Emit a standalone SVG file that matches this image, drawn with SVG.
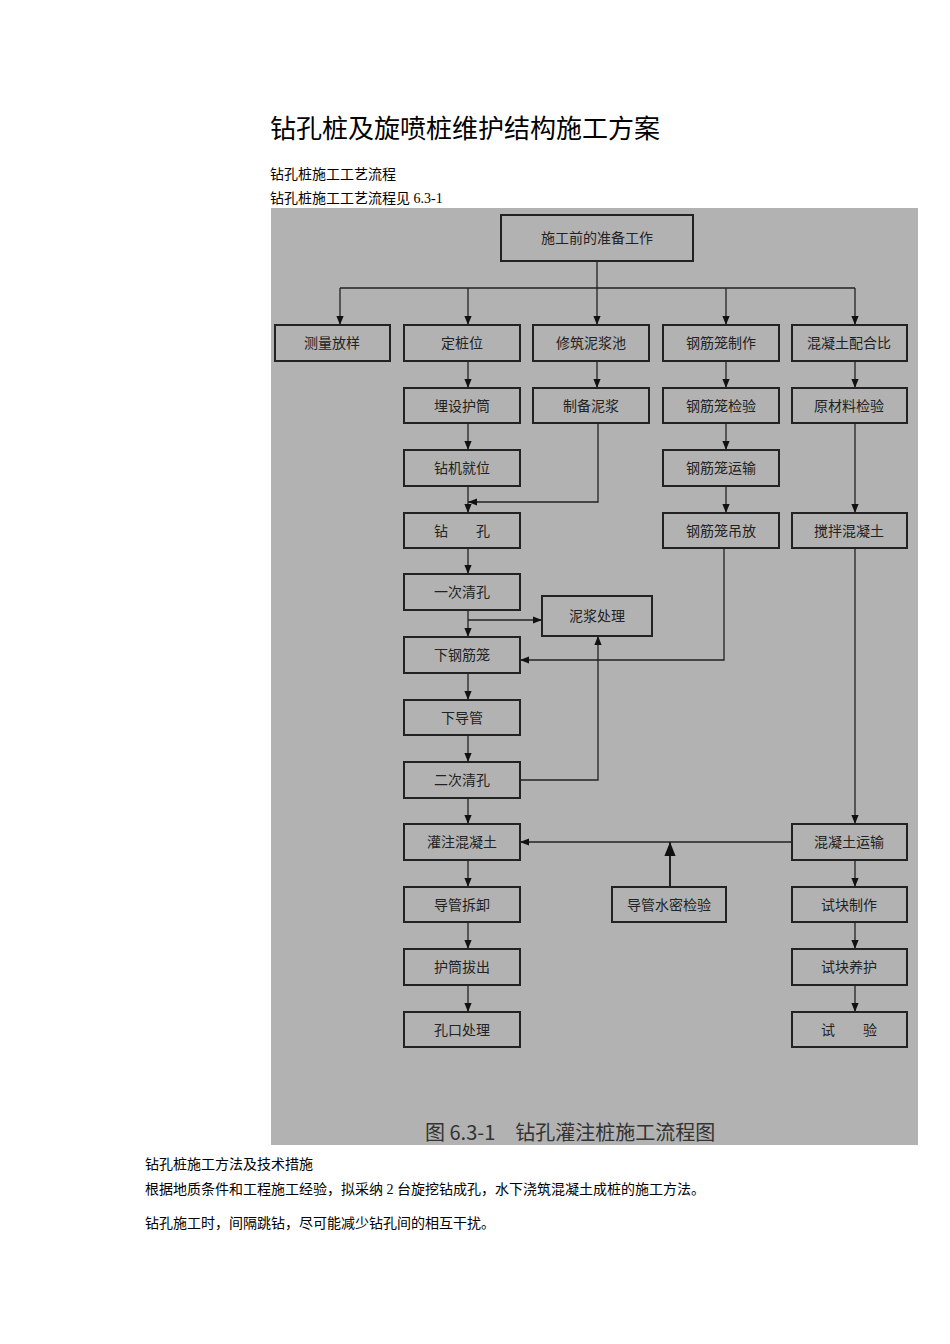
<svg xmlns="http://www.w3.org/2000/svg" width="950" height="1344" viewBox="0 0 950 1344">
<defs>
<marker id="a" viewBox="0 0 10 10" refX="10" refY="5" markerWidth="7" markerHeight="7" orient="auto"><path d="M0,1 L10,5 L0,9 z" fill="#111"/></marker>
</defs>
<style>
.t{font-family:"Liberation Serif","Noto Sans CJK SC",serif;fill:#000}
.b rect{fill:#b2b2b2;stroke:#222;stroke-width:2}
.b text{font-family:"Noto Sans CJK SC",sans-serif;font-size:14px;fill:#222;text-anchor:middle}
.c path{fill:none;stroke:#222;stroke-width:1.3}
</style>
<rect width="950" height="1344" fill="#fff"/>
<text class="t" x="270" y="138" font-size="26">钻孔桩及旋喷桩维护结构施工方案</text>
<text class="t" x="270" y="179" font-size="14">钻孔桩施工工艺流程</text>
<text class="t" x="270" y="203" font-size="14">钻孔桩施工工艺流程见 6.3-1</text>
<rect x="271" y="208" width="647" height="937" fill="#b2b2b2"/>
<g class="c">
<path d="M597,261 V288 M340,288 H855"/>
<path d="M340,288 V325" marker-end="url(#a)"/><path d="M468,288 V325" marker-end="url(#a)"/><path d="M597,288 V325" marker-end="url(#a)"/><path d="M726,288 V325" marker-end="url(#a)"/><path d="M855,288 V325" marker-end="url(#a)"/>
<path d="M468,361 V388" marker-end="url(#a)"/><path d="M468,423 V450" marker-end="url(#a)"/><path d="M468,486 V513" marker-end="url(#a)"/><path d="M468,548 V574" marker-end="url(#a)"/><path d="M468,610 V637" marker-end="url(#a)"/><path d="M468,673 V700" marker-end="url(#a)"/><path d="M468,735 V762" marker-end="url(#a)"/><path d="M468,798 V824" marker-end="url(#a)"/><path d="M468,860 V887" marker-end="url(#a)"/><path d="M468,922 V949" marker-end="url(#a)"/><path d="M468,985 V1012" marker-end="url(#a)"/>
<path d="M597,361 V388" marker-end="url(#a)"/>
<path d="M598,423 V502 H468" marker-end="url(#a)"/>
<path d="M726,361 V388" marker-end="url(#a)"/><path d="M726,423 V450" marker-end="url(#a)"/><path d="M726,486 V513" marker-end="url(#a)"/>
<path d="M724,548 V660 H520" marker-end="url(#a)"/>
<path d="M855,361 V388" marker-end="url(#a)"/><path d="M855,423 V513" marker-end="url(#a)"/><path d="M855,548 V824" marker-end="url(#a)"/>
<path d="M855,922 V949" marker-end="url(#a)"/><path d="M855,860 V887" marker-end="url(#a)"/><path d="M855,985 V1012" marker-end="url(#a)"/>
<path d="M468,620 H542" marker-end="url(#a)"/>
<path d="M520,780 H598 V636" marker-end="url(#a)"/>
<path d="M792,842 H520" marker-end="url(#a)"/>
<path d="M670,887 V842" marker-end="url(#a)" style="stroke-width:2"/>
</g>
<g class="b">
<g id="n0"><rect x="501" y="215" width="192" height="46"/><text x="597" y="243">施工前的准备工作</text></g>
<g id="n1"><rect x="275" y="325" width="115" height="36"/><text x="332" y="348">测量放样</text></g>
<g id="n2"><rect x="404" y="325" width="116" height="36"/><text x="462" y="348">定桩位</text></g>
<g id="n3"><rect x="533" y="325" width="116" height="36"/><text x="591" y="348">修筑泥浆池</text></g>
<g id="n4"><rect x="663" y="325" width="116" height="36"/><text x="721" y="348">钢筋笼制作</text></g>
<g id="n5"><rect x="792" y="325" width="115" height="36"/><text x="849" y="348">混凝土配合比</text></g>
<g id="n6"><rect x="404" y="388" width="116" height="35"/><text x="462" y="411">埋设护筒</text></g>
<g id="n7"><rect x="533" y="388" width="116" height="35"/><text x="591" y="411">制备泥浆</text></g>
<g id="n8"><rect x="663" y="388" width="116" height="35"/><text x="721" y="411">钢筋笼检验</text></g>
<g id="n9"><rect x="792" y="388" width="115" height="35"/><text x="849" y="411">原材料检验</text></g>
<g id="n10"><rect x="404" y="450" width="116" height="36"/><text x="462" y="473">钻机就位</text></g>
<g id="n11"><rect x="663" y="450" width="116" height="36"/><text x="721" y="473">钢筋笼运输</text></g>
<g id="n12"><rect x="404" y="513" width="116" height="35"/><text x="462" y="536">钻　　孔</text></g>
<g id="n13"><rect x="663" y="513" width="116" height="35"/><text x="721" y="536">钢筋笼吊放</text></g>
<g id="n14"><rect x="792" y="513" width="115" height="35"/><text x="849" y="536">搅拌混凝土</text></g>
<g id="n15"><rect x="404" y="574" width="116" height="36"/><text x="462" y="597">一次清孔</text></g>
<g id="n16"><rect x="542" y="596" width="110" height="40"/><text x="597" y="621">泥浆处理</text></g>
<g id="n17"><rect x="404" y="637" width="116" height="36"/><text x="462" y="660">下钢筋笼</text></g>
<g id="n18"><rect x="404" y="700" width="116" height="35"/><text x="462" y="723">下导管</text></g>
<g id="n19"><rect x="404" y="762" width="116" height="36"/><text x="462" y="785">二次清孔</text></g>
<g id="n20"><rect x="404" y="824" width="116" height="36"/><text x="462" y="847">灌注混凝土</text></g>
<g id="n21"><rect x="792" y="824" width="115" height="36"/><text x="849" y="847">混凝土运输</text></g>
<g id="n22"><rect x="404" y="887" width="116" height="35"/><text x="462" y="910">导管拆卸</text></g>
<g id="n23"><rect x="612" y="887" width="114" height="35"/><text x="669" y="910">导管水密检验</text></g>
<g id="n24"><rect x="792" y="887" width="115" height="35"/><text x="849" y="910">试块制作</text></g>
<g id="n25"><rect x="404" y="949" width="116" height="36"/><text x="462" y="972">护筒拔出</text></g>
<g id="n26"><rect x="792" y="949" width="115" height="36"/><text x="849" y="972">试块养护</text></g>
<g id="n27"><rect x="404" y="1012" width="116" height="35"/><text x="462" y="1035">孔口处理</text></g>
<g id="n28"><rect x="792" y="1012" width="115" height="35"/><text x="849" y="1035">试　　验</text></g>
</g>
<text x="425" y="1140" font-family="Noto Sans CJK SC,sans-serif" font-size="20" fill="#333">图 6.3-1　钻孔灌注桩施工流程图</text>
<text class="t" x="145" y="1169" font-size="14">钻孔桩施工方法及技术措施</text>
<text class="t" x="145" y="1194" font-size="14">根据地质条件和工程施工经验，拟采纳 2 台旋挖钻成孔，水下浇筑混凝土成桩的施工方法。</text>
<text class="t" x="145" y="1228" font-size="14">钻孔施工时，间隔跳钻，尽可能减少钻孔间的相互干扰。</text>
</svg>
